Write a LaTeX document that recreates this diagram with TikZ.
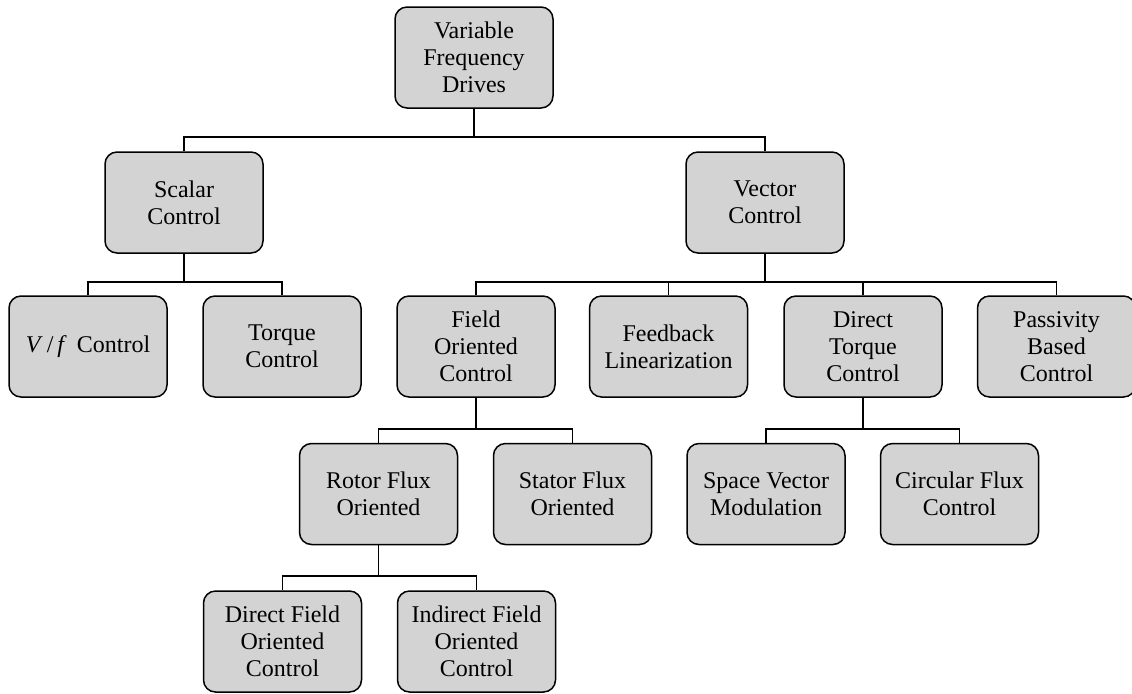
\documentclass[tikz,border=0pt]{standalone}
\usepackage{fontspec}
\setmainfont{Liberation Serif}
\begin{document}
\begin{tikzpicture}[x=0.5pt,y=-0.5pt,
  box/.style={draw=black, line width=0.75pt, fill=boxgray, rounded corners=6pt,
    minimum width=79pt, minimum height=50.5pt, inner sep=0pt, align=center,
    font=\fontsize{12}{13.5}\selectfont},
  conn/.style={draw=black, line width=0.6pt}]
\definecolor{boxgray}{RGB}{211,211,211}
\useasboundingbox (0,0) rectangle (1132,693);
% nodes
\node[box] (vfd) at (474,57.5) {Variable\\Frequency\\Drives};
\node[box] (sc) at (184,202.5) {Scalar\\Control};
\node[box] (vc) at (765,202.5) {Vector\\Control};
\node[box] (vf) at (88,346.5) {\textit{V}\,/\,\textit{f}\, Control};
\node[box] (tc) at (282,346.5) {Torque\\Control};
\node[box] (foc) at (476,346.5) {Field\\Oriented\\Control};
\node[box] (fl) at (668.5,346.5) {Feedback\\Linearization};
\node[box] (dtc) at (863,346.5) {Direct\\Torque\\Control};
\node[box] (pbc) at (1056.5,346.5) {Passivity\\Based\\Control};
\node[box] (rfo) at (378.5,494) {Rotor Flux\\Oriented};
\node[box] (sfo) at (572.5,494) {Stator Flux\\Oriented};
\node[box] (svm) at (766,494) {Space Vector\\Modulation};
\node[box] (cfc) at (959.5,494) {Circular Flux\\Control};
\node[box] (dfoc) at (282.5,641.5) {Direct Field\\Oriented\\Control};
\node[box] (ifoc) at (476.5,641.5) {Indirect Field\\Oriented\\Control};
% bus levels
\coordinate (b0) at (0,137);
\coordinate (b1) at (0,282);
\coordinate (b2) at (0,429);
\coordinate (b3) at (0,576);
% connectors
\draw[conn] (vfd.south) -- (vfd.south |- b0);
\draw[conn] (sc.north) |- (vc.north |- b0) -- (vc.north);
\draw[conn] (sc.south) -- (sc.south |- b1);
\draw[conn] (vf.north) |- (tc.north |- b1) -- (tc.north);
\draw[conn] (vc.south) -- (vc.south |- b1);
\draw[conn] (foc.north) |- (pbc.north |- b1) -- (pbc.north);
\draw[conn] (fl.north) -- (fl.north |- b1);
\draw[conn] (dtc.north) -- (dtc.north |- b1);
\draw[conn] (foc.south) -- (foc.south |- b2);
\draw[conn] (rfo.north) |- (sfo.north |- b2) -- (sfo.north);
\draw[conn] (dtc.south) -- (dtc.south |- b2);
\draw[conn] (svm.north) |- (cfc.north |- b2) -- (cfc.north);
\draw[conn] (rfo.south) -- (rfo.south |- b3);
\draw[conn] (dfoc.north) |- (ifoc.north |- b3) -- (ifoc.north);
\end{tikzpicture}
\end{document}
